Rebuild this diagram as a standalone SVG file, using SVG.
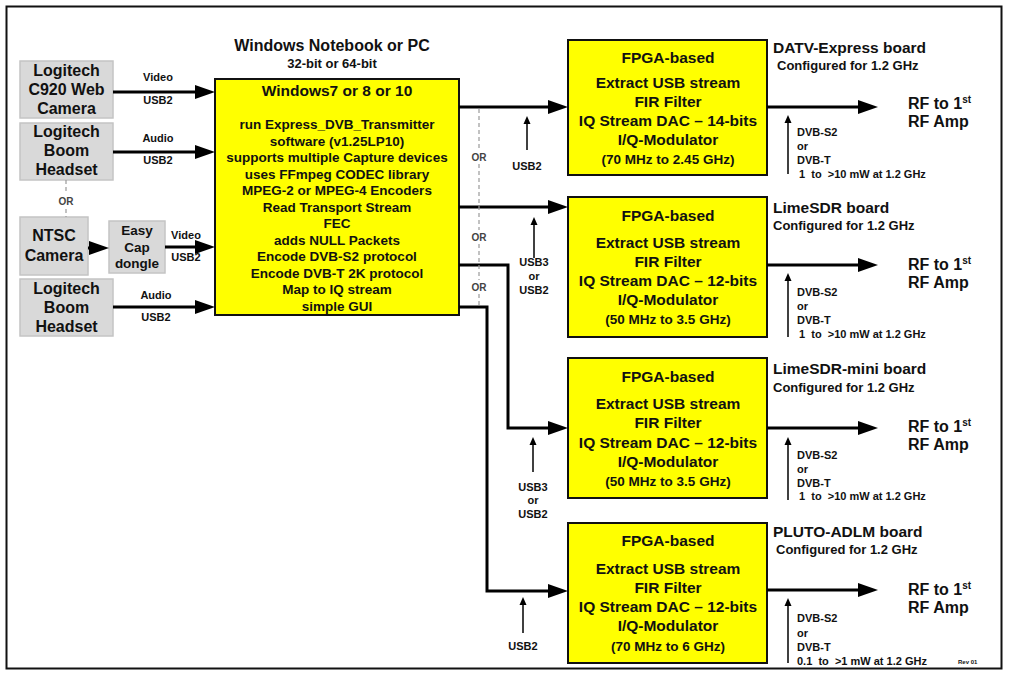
<svg xmlns="http://www.w3.org/2000/svg" width="1010" height="676" viewBox="0 0 1010 676">
<defs>
<style>
text{font-family:"Liberation Sans",Arial,sans-serif;font-weight:bold;fill:#111}
.gbox{fill:#d9d9d9;stroke:#c4c4c4;stroke-width:1.5}
.ybox{fill:#ffff00;stroke:#111;stroke-width:2}
.c{text-anchor:middle}
.s{text-anchor:start}
.f16{font-size:16px}
.f155{font-size:15.5px}
.f135{font-size:13.5px}
.f13{font-size:13px}
.f11{font-size:11px}
.f10{font-size:10px;fill:#444}
.conn{stroke:#000;stroke-width:3;fill:none}
.thin{stroke:#000;stroke-width:1.5;fill:none}
.dash{stroke:#9a9a9a;stroke-width:1.2;stroke-dasharray:4,3;fill:none}
</style>
<marker id="ah" markerUnits="userSpaceOnUse" markerWidth="20" markerHeight="14" refX="10" refY="7" orient="auto"><path d="M0,0 L20,7 L0,14 z" fill="#000"/></marker>
<marker id="ahs" markerUnits="userSpaceOnUse" markerWidth="8" markerHeight="8" refX="4" refY="4" orient="auto"><path d="M0,0.5 L8,4 L0,7.5 z" fill="#000"/></marker>
</defs>
<rect x="0" y="0" width="1010" height="676" fill="#fff"/>
<rect x="6.5" y="6.5" width="995" height="662" fill="none" stroke="#111" stroke-width="2"/>

<g id="cam1"><rect class="gbox" x="20" y="61" width="93" height="57"/>
<text class="c f16" x="66.5" y="76">Logitech</text><text class="c f16" x="66.5" y="95">C920 Web</text><text class="c f16" x="66.5" y="114">Camera</text></g>
<g id="headset1"><rect class="gbox" x="20" y="123" width="93" height="57"/>
<text class="c f16" x="66.5" y="137">Logitech</text><text class="c f16" x="66.5" y="156">Boom</text><text class="c f16" x="66.5" y="175">Headset</text></g>
<g id="ntsc"><rect class="gbox" x="20" y="217" width="68" height="58"/>
<text class="c f16" x="54" y="241">NTSC</text><text class="c f16" x="54" y="261">Camera</text></g>
<g id="easycap"><rect class="gbox" x="109" y="221" width="56" height="52"/>
<text class="c f135" x="137" y="235">Easy</text><text class="c f135" x="137" y="252">Cap</text><text class="c f135" x="137" y="268">dongle</text></g>
<g id="headset2"><rect class="gbox" x="20" y="279" width="93" height="57"/>
<text class="c f16" x="66.5" y="294">Logitech</text><text class="c f16" x="66.5" y="313">Boom</text><text class="c f16" x="66.5" y="332">Headset</text></g>

<g id="pc">
<text class="c f16" x="332" y="51">Windows Notebook or PC</text>
<text class="c f13" x="332" y="68">32-bit or 64-bit</text>
<rect class="ybox" x="215" y="79" width="244" height="236"/>
<text class="c f155" x="337" y="96">Windows7 or 8 or 10</text>
<g class="c f135">
<text x="337" y="129">run Express_DVB_Transmitter</text>
<text x="337" y="146">software (v1.25LP10)</text>
<text x="337" y="162">supports multiple Capture devices</text>
<text x="337" y="179">uses FFmpeg CODEC library</text>
<text x="337" y="195">MPEG-2 or MPEG-4 Encoders</text>
<text x="337" y="212">Read Transport Stream</text>
<text x="337" y="228">FEC</text>
<text x="337" y="245">adds NULL Packets</text>
<text x="337" y="261">Encode DVB-S2 protocol</text>
<text x="337" y="278">Encode DVB-T 2K protocol</text>
<text x="337" y="294">Map to IQ stream</text>
<text x="337" y="311">simple GUI</text>
</g></g>

<g id="datv">
<rect class="ybox" x="568" y="40" width="199" height="135"/>
<text class="c f155" x="668" y="63">FPGA-based</text>
<text class="c f155" x="668" y="88">Extract USB stream</text>
<text class="c f155" x="668" y="107">FIR Filter</text>
<text class="c f155" x="668" y="126">IQ Stream DAC – 14-bits</text>
<text class="c f155" x="668" y="145">I/Q-Modulator</text>
<text class="c f135" x="668" y="164">(70 MHz to 2.45 GHz)</text>
<text class="s f155" x="773" y="53">DATV-Express board</text>
<text class="s f13" x="777" y="70">Configured for 1.2 GHz</text>
<text class="s f16" x="908" y="109">RF to 1<tspan font-size="10" dy="-6">st</tspan></text>
<text class="s f16" x="908" y="127">RF Amp</text>
<text class="s f11" x="797" y="136">DVB-S2</text><text class="s f11" x="797" y="150">or</text><text class="s f11" x="797" y="164">DVB-T</text><text class="s f11" x="799" y="178" xml:space="preserve">1  to  &gt;10 mW at 1.2 GHz</text>
</g>

<g id="lime">
<rect class="ybox" x="568" y="197" width="199" height="140"/>
<text class="c f155" x="668" y="221">FPGA-based</text>
<text class="c f155" x="668" y="248">Extract USB stream</text>
<text class="c f155" x="668" y="267">FIR Filter</text>
<text class="c f155" x="668" y="286">IQ Stream DAC – 12-bits</text>
<text class="c f155" x="668" y="305">I/Q-Modulator</text>
<text class="c f135" x="668" y="324">(50 MHz to 3.5 GHz)</text>
<text class="s f155" x="773" y="213">LimeSDR board</text>
<text class="s f13" x="773" y="230">Configured for 1.2 GHz</text>
<text class="s f16" x="908" y="270">RF to 1<tspan font-size="10" dy="-6">st</tspan></text>
<text class="s f16" x="908" y="288">RF Amp</text>
<text class="s f11" x="797" y="296">DVB-S2</text><text class="s f11" x="797" y="310">or</text><text class="s f11" x="797" y="324">DVB-T</text><text class="s f11" x="799" y="338" xml:space="preserve">1  to  &gt;10 mW at 1.2 GHz</text>
</g>

<g id="limemini">
<rect class="ybox" x="568" y="358" width="199" height="140"/>
<text class="c f155" x="668" y="382">FPGA-based</text>
<text class="c f155" x="668" y="409">Extract USB stream</text>
<text class="c f155" x="668" y="428">FIR Filter</text>
<text class="c f155" x="668" y="448">IQ Stream DAC – 12-bits</text>
<text class="c f155" x="668" y="467">I/Q-Modulator</text>
<text class="c f135" x="668" y="486">(50 MHz to 3.5 GHz)</text>
<text class="s f155" x="773" y="374">LimeSDR-mini board</text>
<text class="s f13" x="773" y="392">Configured for 1.2 GHz</text>
<text class="s f16" x="908" y="432">RF to 1<tspan font-size="10" dy="-6">st</tspan></text>
<text class="s f16" x="908" y="450">RF Amp</text>
<text class="s f11" x="797" y="459">DVB-S2</text><text class="s f11" x="797" y="473">or</text><text class="s f11" x="797" y="487">DVB-T</text><text class="s f11" x="799" y="500" xml:space="preserve">1  to  &gt;10 mW at 1.2 GHz</text>
</g>

<g id="pluto">
<rect class="ybox" x="568" y="523" width="199" height="140"/>
<text class="c f155" x="668" y="546">FPGA-based</text>
<text class="c f155" x="668" y="574">Extract USB stream</text>
<text class="c f155" x="668" y="593">FIR Filter</text>
<text class="c f155" x="668" y="612">IQ Stream DAC – 12-bits</text>
<text class="c f155" x="668" y="631">I/Q-Modulator</text>
<text class="c f135" x="668" y="651">(70 MHz to 6 GHz)</text>
<text class="s f155" x="773" y="537">PLUTO-ADLM board</text>
<text class="s f13" x="776" y="554">Configured for 1.2 GHz</text>
<text class="s f16" x="908" y="595">RF to 1<tspan font-size="10" dy="-6">st</tspan></text>
<text class="s f16" x="908" y="613">RF Amp</text>
<text class="s f11" x="797" y="622">DVB-S2</text><text class="s f11" x="797" y="637">or</text><text class="s f11" x="797" y="651">DVB-T</text><text class="s f11" x="797" y="665" xml:space="preserve">0.1  to  &gt;1 mW at 1.2 GHz</text>
<text class="s" x="958" y="664" style="font-size:6px">Rev 01</text>
</g>

<g id="connectors">
<path class="conn" d="M113,92 H205" marker-end="url(#ah)"/>
<path class="conn" d="M113,152 H205" marker-end="url(#ah)"/>
<path class="conn" d="M88,248 H99" marker-end="url(#ah)"/>
<path class="conn" d="M165,247 H205" marker-end="url(#ah)"/>
<path class="conn" d="M113,307 H205" marker-end="url(#ah)"/>
<path class="dash" d="M66,180 V193 M66,209 V217"/>
<text class="c f10" x="66" y="205">OR</text>

<path class="conn" d="M459,107 H558" marker-end="url(#ah)"/>
<path class="conn" d="M459,207 H558" marker-end="url(#ah)"/>
<path class="conn" d="M459,265 H508 V428 H558" marker-end="url(#ah)"/>
<path class="conn" d="M459,307 H487 V591 H558" marker-end="url(#ah)"/>
<path class="dash" d="M479,109 V150 M479,164 V230 M479,244 V280 M479,294 V307"/>
<text class="c f10" x="479" y="161">OR</text>
<text class="c f10" x="479" y="241">OR</text>
<text class="c f10" x="479" y="291">OR</text>

<path class="conn" d="M767,107 H868" marker-end="url(#ah)"/>
<path class="conn" d="M767,265 H868" marker-end="url(#ah)"/>
<path class="conn" d="M767,428 H868" marker-end="url(#ah)"/>
<path class="conn" d="M767,590 H868" marker-end="url(#ah)"/>

<path class="thin" d="M527,150 V120" marker-end="url(#ahs)"/>
<path class="thin" d="M534,258 V221" marker-end="url(#ahs)"/>
<path class="thin" d="M533,472 V441" marker-end="url(#ahs)"/>
<path class="thin" d="M523,633 V601" marker-end="url(#ahs)"/>
<path class="thin" d="M788,174 V119" marker-end="url(#ahs)"/>
<path class="thin" d="M788,337 V277" marker-end="url(#ahs)"/>
<path class="thin" d="M788,500 V441" marker-end="url(#ahs)"/>
<path class="thin" d="M788,663 V602" marker-end="url(#ahs)"/>

<g class="c f11">
<text x="158" y="81">Video</text><text x="158" y="104">USB2</text>
<text x="158" y="142">Audio</text><text x="158" y="164">USB2</text>
<text x="186" y="239">Video</text><text x="186" y="261">USB2</text>
<text x="156" y="299">Audio</text><text x="156" y="321">USB2</text>
<text x="527" y="170">USB2</text>
<text x="534" y="266">USB3</text><text x="534" y="280">or</text><text x="534" y="294">USB2</text>
<text x="533" y="491">USB3</text><text x="533" y="504">or</text><text x="533" y="518">USB2</text>
<text x="523" y="650">USB2</text>
</g>
</g>
</svg>
